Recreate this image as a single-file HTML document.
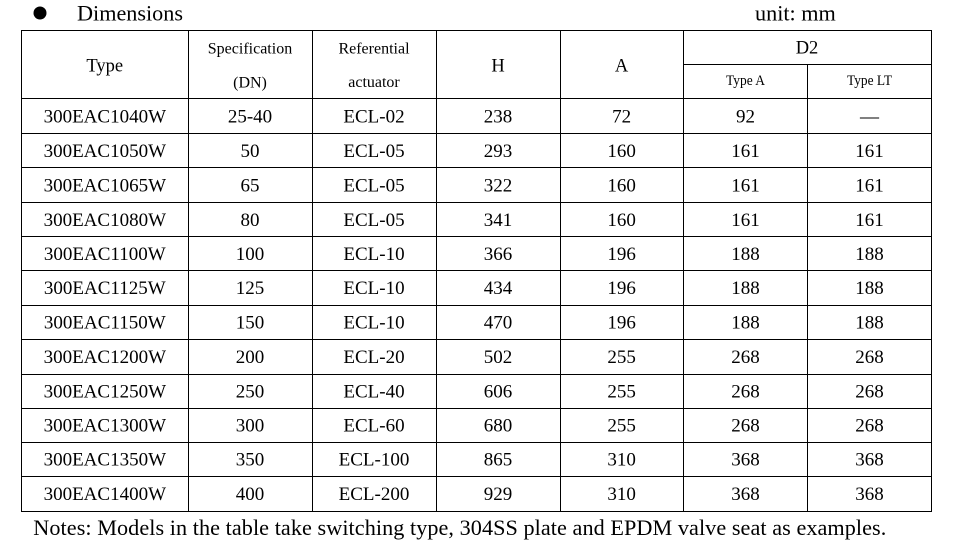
<!DOCTYPE html>
<html>
<head>
<meta charset="utf-8">
<style>
  html,body{margin:0;padding:0;background:#fff;}
  body{width:959px;height:559px;overflow:hidden;}
  svg{display:block;}
  text{font-family:"Liberation Serif","Times New Roman",serif;fill:#000;}
  .d{font-size:19px;text-anchor:middle;}
  .h{font-size:18.5px;text-anchor:middle;}
  .s{font-size:16px;text-anchor:middle;}
  .t{font-size:14.5px;text-anchor:middle;}
</style>
</head>
<body>
<svg width="959" height="559" viewBox="0 0 959 559" xmlns="http://www.w3.org/2000/svg">
  <rect x="0" y="0" width="959" height="559" fill="#fff"/>
  <!-- title -->
  <circle cx="40" cy="13" r="6.5" fill="#000"/>
  <text x="77" y="20.7" style="font-size:22.2px">Dimensions</text>
  <text x="755" y="20.7" style="font-size:22.2px">unit: mm</text>

  <!-- horizontal lines -->
  <g fill="#000">
    <rect x="21" y="30" width="911" height="1"/>
    <rect x="683" y="64" width="249" height="1"/>
    <rect x="21" y="98" width="911" height="1"/>
    <rect x="21" y="133" width="911" height="1"/>
    <rect x="21" y="167" width="911" height="1"/>
    <rect x="21" y="202" width="911" height="1"/>
    <rect x="21" y="236" width="911" height="1"/>
    <rect x="21" y="270" width="911" height="1"/>
    <rect x="21" y="305" width="911" height="1"/>
    <rect x="21" y="339" width="911" height="1"/>
    <rect x="21" y="374" width="911" height="1"/>
    <rect x="21" y="408" width="911" height="1"/>
    <rect x="21" y="442" width="911" height="1"/>
    <rect x="21" y="476" width="911" height="1"/>
    <rect x="21" y="511" width="911" height="1"/>
    <!-- vertical lines -->
    <rect x="21" y="30" width="1" height="482"/>
    <rect x="188" y="30" width="1" height="482"/>
    <rect x="312" y="30" width="1" height="482"/>
    <rect x="436" y="30" width="1" height="482"/>
    <rect x="560" y="30" width="1" height="482"/>
    <rect x="683" y="30" width="1" height="482"/>
    <rect x="807" y="64" width="1" height="448"/>
    <rect x="931" y="30" width="1" height="482"/>
  </g>

  <!-- header -->
  <text class="h" x="104.8" y="71.7">Type</text>
  <text class="s" x="250" y="53.3">Specification</text>
  <text class="s" x="250" y="87.3">(DN)</text>
  <text class="s" x="374" y="53.3">Referential</text>
  <text class="s" x="374" y="87">actuator</text>
  <text class="h" x="498" y="71.7">H</text>
  <text class="h" x="621.6" y="71.7">A</text>
  <text class="h" x="807" y="53.3">D2</text>
  <text class="t" x="745.5" y="85" textLength="39" lengthAdjust="spacingAndGlyphs">Type A</text>
  <text class="t" x="869.5" y="85" textLength="45" lengthAdjust="spacingAndGlyphs">Type LT</text>

  <!-- data rows -->
  <g class="rows">
    <text class="d" x="104.8" y="122.3">300EAC1040W</text>
    <text class="d" x="250" y="122.3">25-40</text>
    <text class="d" x="374" y="122.3">ECL-02</text>
    <text class="d" x="498" y="122.3">238</text>
    <text class="d" x="621.6" y="122.3">72</text>
    <text class="d" x="745.5" y="122.3">92</text>
    <text class="d" x="869.5" y="122.3">—</text>

    <text class="d" x="104.8" y="156.8">300EAC1050W</text>
    <text class="d" x="250" y="156.8">50</text>
    <text class="d" x="374" y="156.8">ECL-05</text>
    <text class="d" x="498" y="156.8">293</text>
    <text class="d" x="621.6" y="156.8">160</text>
    <text class="d" x="745.5" y="156.8">161</text>
    <text class="d" x="869.5" y="156.8">161</text>

    <text class="d" x="104.8" y="191.3">300EAC1065W</text>
    <text class="d" x="250" y="191.3">65</text>
    <text class="d" x="374" y="191.3">ECL-05</text>
    <text class="d" x="498" y="191.3">322</text>
    <text class="d" x="621.6" y="191.3">160</text>
    <text class="d" x="745.5" y="191.3">161</text>
    <text class="d" x="869.5" y="191.3">161</text>

    <text class="d" x="104.8" y="225.8">300EAC1080W</text>
    <text class="d" x="250" y="225.8">80</text>
    <text class="d" x="374" y="225.8">ECL-05</text>
    <text class="d" x="498" y="225.8">341</text>
    <text class="d" x="621.6" y="225.8">160</text>
    <text class="d" x="745.5" y="225.8">161</text>
    <text class="d" x="869.5" y="225.8">161</text>

    <text class="d" x="104.8" y="259.8">300EAC1100W</text>
    <text class="d" x="250" y="259.8">100</text>
    <text class="d" x="374" y="259.8">ECL-10</text>
    <text class="d" x="498" y="259.8">366</text>
    <text class="d" x="621.6" y="259.8">196</text>
    <text class="d" x="745.5" y="259.8">188</text>
    <text class="d" x="869.5" y="259.8">188</text>

    <text class="d" x="104.8" y="293.8">300EAC1125W</text>
    <text class="d" x="250" y="293.8">125</text>
    <text class="d" x="374" y="293.8">ECL-10</text>
    <text class="d" x="498" y="293.8">434</text>
    <text class="d" x="621.6" y="293.8">196</text>
    <text class="d" x="745.5" y="293.8">188</text>
    <text class="d" x="869.5" y="293.8">188</text>

    <text class="d" x="104.8" y="328.3">300EAC1150W</text>
    <text class="d" x="250" y="328.3">150</text>
    <text class="d" x="374" y="328.3">ECL-10</text>
    <text class="d" x="498" y="328.3">470</text>
    <text class="d" x="621.6" y="328.3">196</text>
    <text class="d" x="745.5" y="328.3">188</text>
    <text class="d" x="869.5" y="328.3">188</text>

    <text class="d" x="104.8" y="362.8">300EAC1200W</text>
    <text class="d" x="250" y="362.8">200</text>
    <text class="d" x="374" y="362.8">ECL-20</text>
    <text class="d" x="498" y="362.8">502</text>
    <text class="d" x="621.6" y="362.8">255</text>
    <text class="d" x="745.5" y="362.8">268</text>
    <text class="d" x="869.5" y="362.8">268</text>

    <text class="d" x="104.8" y="397.3">300EAC1250W</text>
    <text class="d" x="250" y="397.3">250</text>
    <text class="d" x="374" y="397.3">ECL-40</text>
    <text class="d" x="498" y="397.3">606</text>
    <text class="d" x="621.6" y="397.3">255</text>
    <text class="d" x="745.5" y="397.3">268</text>
    <text class="d" x="869.5" y="397.3">268</text>

    <text class="d" x="104.8" y="431.3">300EAC1300W</text>
    <text class="d" x="250" y="431.3">300</text>
    <text class="d" x="374" y="431.3">ECL-60</text>
    <text class="d" x="498" y="431.3">680</text>
    <text class="d" x="621.6" y="431.3">255</text>
    <text class="d" x="745.5" y="431.3">268</text>
    <text class="d" x="869.5" y="431.3">268</text>

    <text class="d" x="104.8" y="465.3">300EAC1350W</text>
    <text class="d" x="250" y="465.3">350</text>
    <text class="d" x="374" y="465.3">ECL-100</text>
    <text class="d" x="498" y="465.3">865</text>
    <text class="d" x="621.6" y="465.3">310</text>
    <text class="d" x="745.5" y="465.3">368</text>
    <text class="d" x="869.5" y="465.3">368</text>

    <text class="d" x="104.8" y="499.8">300EAC1400W</text>
    <text class="d" x="250" y="499.8">400</text>
    <text class="d" x="374" y="499.8">ECL-200</text>
    <text class="d" x="498" y="499.8">929</text>
    <text class="d" x="621.6" y="499.8">310</text>
    <text class="d" x="745.5" y="499.8">368</text>
    <text class="d" x="869.5" y="499.8">368</text>
  </g>

  <!-- notes -->
  <text x="33.3" y="535" style="font-size:22.2px" textLength="853" lengthAdjust="spacing">Notes: Models in the table take switching type, 304SS plate and EPDM valve seat as examples.</text>
</svg>
</body>
</html>
